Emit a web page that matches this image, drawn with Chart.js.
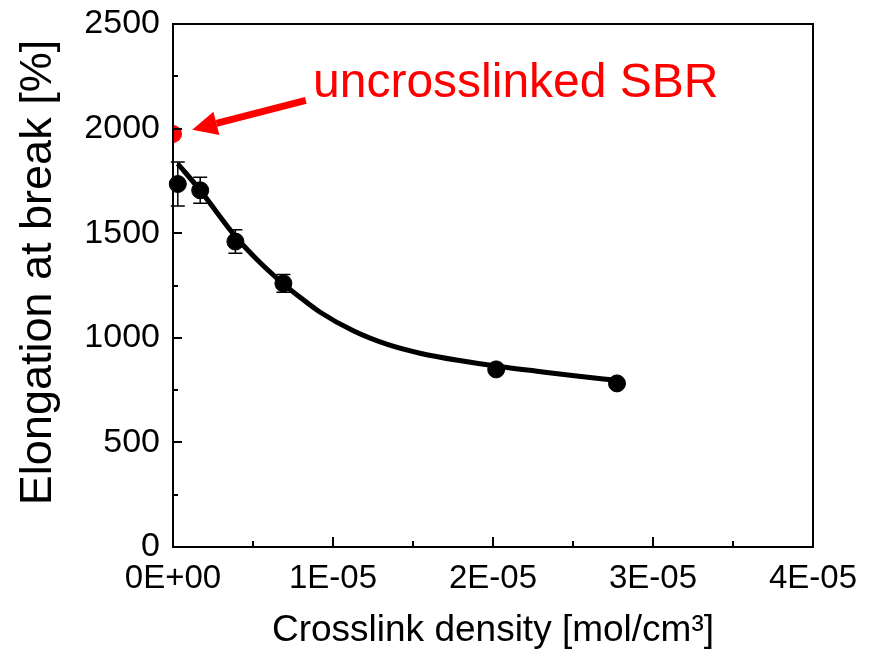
<!DOCTYPE html>
<html>
<head>
<meta charset="utf-8">
<script src="https://cdn.jsdelivr.net/npm/chart.js@4/dist/chart.umd.min.js"></script>
<style>
  html, body { margin: 0; padding: 0; background: #fff; }
  #wrap { width: 873px; height: 653px; }
</style>
</head>
<body>
<div id="wrap"><canvas id="chart" width="873" height="653"></canvas></div>
<script>
// measured samples
var density = [3e-7, 1.7e-6, 3.9e-6, 6.9e-6, 2.02e-5, 2.775e-5]
var elongation = [1735, 1705, 1460, 1260, 849, 782]
var elongationErr = [105, 62, 56, 42, 20, 12]

// uncrosslinked reference
var refDensity = [0]
var refElongation = [1974]

// fitted trend line
var fitDensity = [3e-7, 1.7e-6, 3.9e-6, 5.5e-6, 6.9e-6, 8e-6, 9.2e-6, 1.13e-5, 1.34e-5, 1.55e-5, 1.8e-5, 2.05e-5, 2.3e-5, 2.55e-5, 2.76e-5]
var fitElongation = [1832, 1705, 1485, 1355, 1258, 1190, 1122, 1032, 968, 925, 890, 862, 838, 815, 798]

var xTickLabels = ["0E+00", "1E-05", "2E-05", "3E-05", "4E-05"]
var yTickLabels = ["0", "500", "1000", "1500", "2000", "2500"]

// annotation anchors in data units
var arrowTail = [8.3e-6, 2135]
var arrowTip = [1.2e-6, 1995]
var noteAt = [8.75e-6, 2150]
var noteText = "uncrosslinked SBR"
var yTitle = "Elongation at break [%]"

var fontFamily = "'Liberation Sans', Arial, sans-serif"

function toPoints(xs, ys) {
  return xs.map(function(x, i) { return { x: x, y: ys[i] } })
}

var frame = {
  id: "frame",
  afterDatasetsDraw: function(chart) {
    var ctx = chart.ctx
    var a = chart.chartArea
    var xs = chart.scales.x
    var ys = chart.scales.y
    ctx.save()

    // error bars
    ctx.strokeStyle = "#000"
    ctx.lineWidth = 1.5
    density.forEach(function(d, i) {
      var px = xs.getPixelForValue(d)
      var top = ys.getPixelForValue(elongation[i] + elongationErr[i])
      var bot = ys.getPixelForValue(elongation[i] - elongationErr[i])
      ctx.beginPath()
      ctx.moveTo(px, top); ctx.lineTo(px, bot)
      ctx.moveTo(px - 7, top); ctx.lineTo(px + 7, top)
      ctx.moveTo(px - 7, bot); ctx.lineTo(px + 7, bot)
      ctx.stroke()
    })

    // box
    ctx.lineWidth = 2
    ctx.strokeRect(a.left, a.top, a.right - a.left, a.bottom - a.top)

    // inward ticks
    ctx.beginPath()
    for (var v = 0; v <= 2500; v += 250) {
      var py = Math.round(ys.getPixelForValue(v))
      var len = v % 500 === 0 ? 9 : 5
      ctx.moveTo(a.left, py); ctx.lineTo(a.left + len, py)
    }
    for (var k = 0; k <= 8; k++) {
      var tx = Math.round(xs.getPixelForValue(k * 5e-6))
      var tl = k % 2 === 0 ? 10 : 6
      ctx.moveTo(tx, a.bottom); ctx.lineTo(tx, a.bottom - tl)
    }
    ctx.stroke()

    // annotation arrow
    var x0 = xs.getPixelForValue(arrowTail[0]), y0 = ys.getPixelForValue(arrowTail[1])
    var x1 = xs.getPixelForValue(arrowTip[0]), y1 = ys.getPixelForValue(arrowTip[1])
    var ang = Math.atan2(y1 - y0, x1 - x0)
    var headLen = 25, headHalf = 12
    var bx = x1 - headLen * Math.cos(ang), by = y1 - headLen * Math.sin(ang)
    ctx.strokeStyle = "#ff0000"
    ctx.fillStyle = "#ff0000"
    ctx.lineWidth = 7
    ctx.beginPath()
    ctx.moveTo(x0, y0); ctx.lineTo(bx, by)
    ctx.stroke()
    ctx.beginPath()
    ctx.moveTo(x1, y1)
    ctx.lineTo(bx + headHalf * Math.sin(ang), by - headHalf * Math.cos(ang))
    ctx.lineTo(bx - headHalf * Math.sin(ang), by + headHalf * Math.cos(ang))
    ctx.closePath()
    ctx.fill()

    ctx.font = "48px " + fontFamily
    ctx.textBaseline = "alphabetic"
    ctx.textAlign = "left"
    ctx.fillText(noteText, xs.getPixelForValue(noteAt[0]), ys.getPixelForValue(noteAt[1]))

    // y axis title, a bit above the plot centre as in the original
    ctx.fillStyle = "#000"
    ctx.font = "45px " + fontFamily
    ctx.textAlign = "center"
    ctx.textBaseline = "middle"
    ctx.translate(39, (a.top + a.bottom) / 2 - 13)
    ctx.rotate(-Math.PI / 2)
    ctx.fillText(yTitle, 0, 0)
    ctx.restore()
  }
}

new Chart(document.getElementById("chart"), {
  type: "scatter",
  data: {
    datasets: [{
      label: "fit",
      data: toPoints(fitDensity, fitElongation),
      showLine: true,
      borderColor: "#000",
      borderWidth: 5,
      pointRadius: 0,
      cubicInterpolationMode: "monotone",
      clip: false
    }, {
      label: "crosslinked",
      data: toPoints(density, elongation),
      backgroundColor: "#000",
      borderColor: "#000",
      pointRadius: 8.5,
      clip: false
    }, {
      label: "uncrosslinked",
      data: toPoints(refDensity, refElongation),
      backgroundColor: "#ff0000",
      borderColor: "#ff0000",
      pointRadius: 8.5,
      clip: 0
    }]
  },
  options: {
    responsive: false,
    animation: false,
    layout: { padding: { top: 24, right: 60, left: 0, bottom: 0 } },
    plugins: { legend: { display: false }, tooltip: { enabled: false } },
    scales: {
      x: {
        type: "linear",
        min: 0,
        max: 4e-5,
        afterFit: function(scale) { scale.height = 106 },
        afterBuildTicks: function(scale) {
          scale.ticks = xTickLabels.map(function(_, i) { return { value: i * 1e-5 } })
        },
        grid: { display: false, drawTicks: false },
        border: { display: false },
        ticks: {
          color: "#000",
          padding: 12,
          maxRotation: 0,
          font: { size: 33, family: fontFamily },
          callback: function(value, index) { return xTickLabels[index] }
        },
        title: {
          display: true,
          text: "Crosslink density [mol/cm³]",
          color: "#000",
          font: { size: 37, family: fontFamily },
          padding: { top: 0, bottom: 0 }
        }
      },
      y: {
        type: "linear",
        min: 0,
        max: 2500,
        afterFit: function(scale) {
          scale.width = 173
          scale.paddingTop = 0
          scale.paddingBottom = 0
        },
        afterBuildTicks: function(scale) {
          scale.ticks = yTickLabels.map(function(_, i) { return { value: i * 500 } })
        },
        grid: { display: false, drawTicks: false },
        border: { display: false },
        ticks: {
          color: "#000",
          padding: 13,
          font: { size: 34, family: fontFamily },
          callback: function(value, index) { return yTickLabels[index] }
        }
      }
    }
  },
  plugins: [frame]
})
</script>
</body>
</html>
